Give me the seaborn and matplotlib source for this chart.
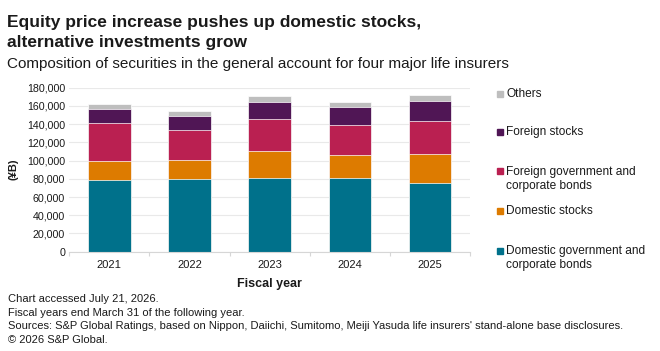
import numpy as np
import pandas as pd
import seaborn as sns
import matplotlib.pyplot as plt
from matplotlib.patches import Rectangle
from matplotlib.ticker import FuncFormatter, MultipleLocator

# values (yen, billions)
years = ['2021', '2022', '2023', '2024', '2025']
dom_bonds = [79000, 80100, 81200, 80900, 75700]
dom_stocks = [20500, 20500, 29000, 25200, 31500]
for_bonds = [41700, 32600, 35400, 33000, 35900]
for_stocks = [15000, 15400, 18400, 19700, 22000]
others = [6200, 5500, 6600, 5800, 6900]

series = ['Domestic government and\ncorporate bonds', 'Domestic stocks',
          'Foreign government and\ncorporate bonds', 'Foreign stocks', 'Others']
colors = ['#00718b', '#dd7b00', '#ba2051', '#501655', '#bebebe']


def main():
    sns.set_theme(style='white')
    plt.rcParams['font.family'] = ['Liberation Sans', 'DejaVu Sans']
    txt = '#1a1a1a'

    df = pd.DataFrame({'year': years, series[0]: dom_bonds, series[1]: dom_stocks,
                       series[2]: for_bonds, series[3]: for_stocks, series[4]: others})
    cum = df[series].cumsum(axis=1)
    cum['year'] = df['year']

    fig = plt.figure(figsize=(6.6, 3.51), dpi=100)
    ax = fig.add_axes([0.105, 0.283, 0.607, 0.467])

    # stacked bars: draw running totals from the top segment down
    for name, col in reversed(list(zip(series, colors))):
        sns.barplot(data=cum, x='year', y=name, color=col, saturation=1, width=0.53,
                    errorbar=None, edgecolor='white', linewidth=0.5, ax=ax, order=years)

    ax.set_ylim(0, 180000)
    ax.set_xlim(-0.5, 4.5)
    ax.yaxis.set_major_locator(MultipleLocator(20000))
    ax.yaxis.set_major_formatter(FuncFormatter(lambda v, p: '{:,.0f}'.format(v)))
    ax.grid(axis='y', color='#e9e9e9', linewidth=0.8)
    ax.set_axisbelow(True)
    for s in ['top', 'right', 'left']:
        ax.spines[s].set_visible(False)
    ax.spines['bottom'].set_color('#d6d6d6')
    ax.spines['bottom'].set_linewidth(0.8)
    ax.set_xticks(np.arange(-0.5, 5, 1), minor=True)
    ax.tick_params(axis='x', which='minor', length=3, color='#d6d6d6', width=0.8, bottom=True)
    ax.tick_params(axis='x', which='major', length=0, pad=6, labelsize=8, labelcolor=txt)
    ax.tick_params(axis='y', length=0, pad=3, labelsize=7.7, labelcolor=txt)
    ax.set_xlabel('Fiscal year', fontsize=9, fontweight='bold', color=txt, labelpad=6)
    ax.set_ylabel('(¥B)', fontsize=8, fontweight='bold', color=txt, labelpad=6)

    fig.text(0.011, 1 - 26.7 / 351, 'Equity price increase pushes up domestic stocks,',
             fontsize=12.5, fontweight='bold', color=txt, va='baseline')
    fig.text(0.011, 1 - 46.7 / 351, 'alternative investments grow',
             fontsize=12.5, fontweight='bold', color=txt, va='baseline')
    fig.text(0.011, 1 - 68.3 / 351, 'Composition of securities in the general account for four major life insurers',
             fontsize=11, color=txt, va='baseline')

    # legend, top entry first
    leg_y = [94, 132.5, 171.5, 210.5, 251]
    for name, col, y in zip(reversed(series), reversed(colors), leg_y):
        fy = 1 - y / 351
        fig.patches.append(Rectangle((497 / 660, fy - 3 / 351), 6 / 660, 6 / 351,
                                     transform=fig.transFigure, color=col, figure=fig))
        lines = name.split('\n')
        for k, ln in enumerate(lines):
            fig.text(506 / 660, fy - 14 * k / 351, ln, fontsize=8.6, color=txt, va='center')

    notes = ['Chart accessed July 21, 2026.',
             'Fiscal years end March 31 of the following year.',
             "Sources: S&P Global Ratings, based on Nippon, Daiichi, Sumitomo, Meiji Yasuda life insurers' stand-alone base disclosures.",
             '© 2026 S&P Global.']
    for i, n in enumerate(notes):
        fig.text(0.012, 1 - (299.5 + 13.4 * i) / 351, n, fontsize=8, color=txt, va='center')

    fig.savefig('out.png', dpi=100)


if __name__ == '__main__':
    main()
